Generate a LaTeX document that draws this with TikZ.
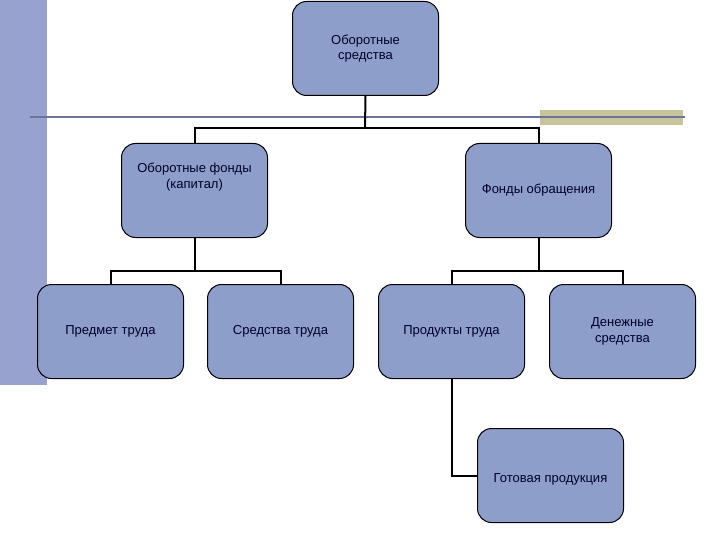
\documentclass[tikz,border=0pt]{standalone}
\usepackage{fontspec}
\setmainfont{Liberation Sans}
\begin{document}
\begin{tikzpicture}[x=1pt,y=-1pt,
  box/.style={draw=black,line width=1pt,fill=boxc,rounded corners=14pt,minimum width=146pt,minimum height=94pt,align=center,font=\fontsize{13}{15.5}\selectfont,text=black!85!blue,anchor=north west,inner sep=2pt},
  conn/.style={draw=black,line width=2pt}]
\definecolor{boxc}{HTML}{8E9ECB}
\definecolor{barc}{HTML}{97A2CF}
\definecolor{linec}{HTML}{6E7399}
\definecolor{olive}{HTML}{C8C49A}
\useasboundingbox (0,0) rectangle (720,540);
\fill[barc] (0,0) rectangle (47,385);
\fill[olive] (540,110) rectangle (683,125);
\draw[linec,line width=2pt] (30,117) -- (685,117);
\node[box] (top) at (292,1) {Оборотные\\средства};
\node[box] (of) at (121,143) {Оборотные фонды\\(капитал)\\[14pt]};
\node[box] (fo) at (465,143) {Фонды обращения};
\node[box] (pt) at (37,284) {Предмет труда};
\node[box] (st) at (207,284) {Средства труда};
\node[box] (pr) at (378,284) {Продукты труда};
\node[box] (ds) at (549,284) {Денежные\\средства};
\node[box] (gp) at (477,428) {\\[2pt]Готовая продукция};
\coordinate (h1) at (365,128);
\draw[conn] (top.south) -- (h1);
\draw[conn] (of.north) |- (h1) -| (fo.north);
\draw[conn] (of.south) -- ++(0,33) coordinate (h2);
\draw[conn] (pt.north) |- (h2) -| (st.north);
\draw[conn] (fo.south) -- ++(0,33) coordinate (h3);
\draw[conn] (pr.north) |- (h3) -| (ds.north);
\draw[conn] (pr.south) |- (gp.west);
\end{tikzpicture}
\end{document}
